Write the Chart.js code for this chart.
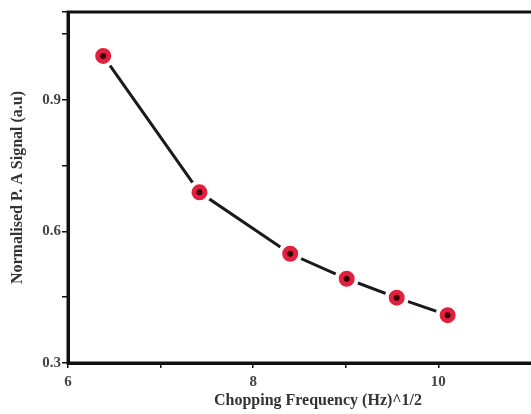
<!DOCTYPE html>
<html>
<head>
<meta charset="utf-8">
<script src="https://cdn.jsdelivr.net/npm/chart.js@4/dist/chart.umd.min.js"></script>
<style>
  html, body { margin: 0; padding: 0; background: #fff; overflow: hidden; }
  canvas { display: block; }
</style>
</head>
<body>
<canvas id="c" width="580" height="414"></canvas>
<script>
// sqrt of chopping frequency vs normalised photoacoustic signal
const freqRoot = [6.38, 7.42, 8.40, 9.01, 9.55, 10.10];
const signal = [1.0, 0.689, 0.549, 0.492, 0.449, 0.409];
const xLabels = [6, 8, 10];
const yLabels = [0.3, 0.6, 0.9];

const points = freqRoot.map((x, i) => ({ x: x, y: signal[i] }));
const serif = "'Liberation Serif', 'Times New Roman', serif";

const frame = {
  id: "frame",
  afterDraw(chart) {
    const a = chart.chartArea;
    const ctx = chart.ctx;
    ctx.save();
    ctx.strokeStyle = "#111";
    ctx.lineWidth = 3;
    ctx.strokeRect(a.left, a.top, a.right - a.left, a.bottom - a.top);
    ctx.restore();
  }
};

new Chart(document.getElementById("c"), {
  type: "scatter",
  data: {
    datasets: [
      {
        data: points,
        pointRadius: 5.5,
        pointBorderWidth: 5,
        pointBackgroundColor: "#3a0008",
        pointBorderColor: "#e0203c",
        showLine: false,
      },
      {
        data: points,
        pointRadius: 12,
        pointBorderWidth: 0,
        pointBackgroundColor: "#fff",
        showLine: false,
      },
      {
        data: points,
        showLine: true,
        borderColor: "#1a1a1a",
        borderWidth: 3,
        pointRadius: 0,
      },
    ],
  },
  options: {
    responsive: false,
    animation: false,
    layout: {
      padding: { top: 10, right: 5, left: 0, bottom: 0 }
    },
    plugins: {
      legend: { display: false },
      tooltip: { enabled: false }
    },
    scales: {
      x: {
        type: "linear",
        min: 6,
        max: 11.4,
        afterFit: (s) => { s.height = 51; },
        grid: { drawOnChartArea: false, drawTicks: true, tickLength: 5, color: "#111", lineWidth: 1.5 },
        border: { color: "#111", width: 3 },
        ticks: {
          stepSize: 1,
          autoSkip: false,
          maxRotation: 0,
          padding: 5,
          color: "#444",
          font: { family: serif, size: 15, weight: "bold" },
          callback: (v) => (xLabels.includes(v) ? String(v) : "")
        },
        title: {
          display: true,
          text: "Chopping Frequency (Hz)^1/2",
          color: "#333",
          padding: { top: 0 },
          font: { family: serif, size: 16, weight: "bold" }
        }
      },
      y: {
        min: 0.3,
        max: 1.1,
        afterFit: (s) => { s.width = 68; },
        grid: { drawOnChartArea: false, drawTicks: true, tickLength: 6, color: "#111", lineWidth: 1.5 },
        border: { color: "#111", width: 3 },
        ticks: {
          stepSize: 0.15,
          autoSkip: false,
          padding: 1,
          color: "#444",
          font: { family: serif, size: 15, weight: "bold" },
          callback: (v) => {
            const r = Math.round(v * 100) / 100;
            return yLabels.includes(r) ? r.toFixed(1) : "";
          }
        },
        title: {
          display: true,
          text: "Normalised P. A Signal (a.u)",
          color: "#333",
          padding: { top: 8, bottom: 6 },
          font: { family: serif, size: 16, weight: "bold" }
        }
      }
    }
  },
  plugins: [frame]
});
</script>
</body>
</html>
